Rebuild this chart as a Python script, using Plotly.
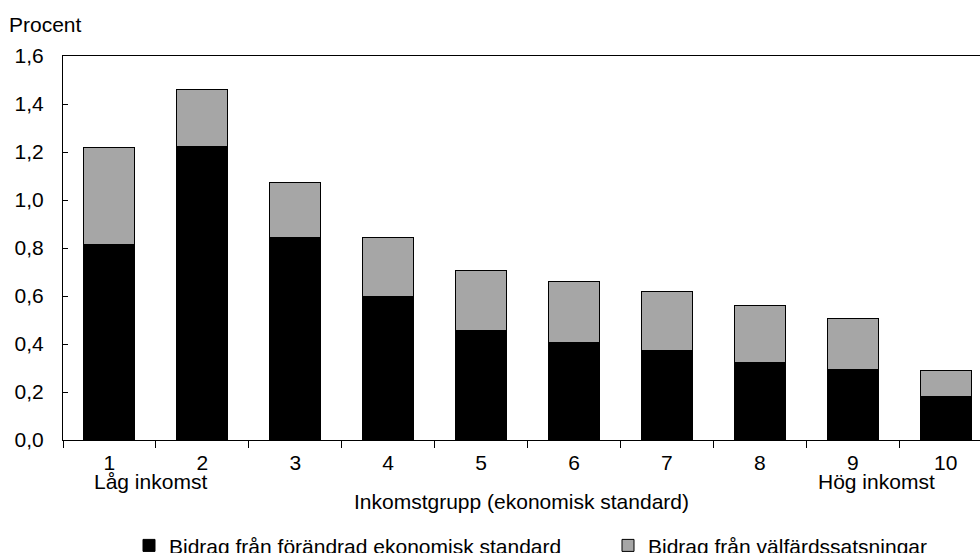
import plotly.graph_objects as go

categories = ["1", "2", "3", "4", "5", "6", "7", "8", "9", "10"]
ekonomisk_standard = [0.815, 1.221, 0.845, 0.600, 0.455, 0.405, 0.375, 0.324, 0.295, 0.181]
valfardssatsningar = [0.403, 0.240, 0.229, 0.245, 0.250, 0.255, 0.245, 0.236, 0.210, 0.108]
y_ticks = [0.0, 0.2, 0.4, 0.6, 0.8, 1.0, 1.2, 1.4, 1.6]

FONT = "Liberation Sans, Arial, sans-serif"
FS = 21

fig = go.Figure()
fig.add_trace(go.Bar(
    x=categories, y=ekonomisk_standard,
    name="Bidrag från förändrad ekonomisk standard",
    marker=dict(color="#000000", line=dict(color="#000000", width=1)),
    legend="legend",
))
fig.add_trace(go.Bar(
    x=categories, y=valfardssatsningar,
    name="Bidrag från välfärdssatsningar",
    marker=dict(color="#A6A6A6", line=dict(color="#000000", width=1)),
    legend="legend2",
))

legend_common = dict(
    orientation="h", yanchor="top", y=-0.222,
    font=dict(size=FS, family=FONT), itemwidth=30,
    bgcolor="rgba(0,0,0,0)",
)

fig.update_layout(
    width=980, height=553,
    margin=dict(l=63, r=0, t=56, b=113, autoexpand=False),
    paper_bgcolor="white", plot_bgcolor="white",
    barmode="stack", bargap=0.451,
    separators=", ",
    font=dict(family=FONT, size=FS, color="#000000"),
    showlegend=True,
    legend=dict(x=(129 - 63) / 917, xanchor="left", **legend_common),
    legend2=dict(x=(608 - 63) / 917, xanchor="left", **legend_common),
    xaxis=dict(
        type="category", range=[-0.5, 9.37],
        showline=True, linecolor="#000000", linewidth=1, mirror=True,
        ticks="outside", ticklen=7, tickcolor="#000000", tickwidth=1,
        tickson="boundaries", showgrid=False, zeroline=False,
        tickfont=dict(size=FS, family=FONT),
        ticklabelstandoff=4,
    ),
    xaxis2=dict(
        overlaying="x", anchor="y", range=[-0.5, 9.37],
        tick0=-0.5, dtick=1, ticks="inside", ticklen=5,
        tickcolor="#000000", tickwidth=1, showticklabels=False,
        showgrid=False, zeroline=False, showline=False,
    ),
    yaxis=dict(
        range=[0, 1.6], tickvals=y_ticks, tickformat=".1f",
        showline=True, linecolor="#000000", linewidth=1,
        ticks="inside", ticklen=5, tickcolor="#000000", tickwidth=1,
        showgrid=False, zeroline=False,
        tickfont=dict(size=FS, family=FONT),
        ticklabelstandoff=14,
    ),
)

fig.add_annotation(text="Procent", xref="paper", yref="paper",
                   x=(7 - 63) / 917, xanchor="left", y=(440 - 24.5) / 384, yanchor="middle",
                   showarrow=False, font=dict(size=FS, family=FONT))
fig.add_annotation(text="Låg inkomst", xref="paper", yref="paper",
                   x=(92 - 63) / 917, xanchor="left", y=(440 - 481.5) / 384, yanchor="middle",
                   showarrow=False, font=dict(size=FS, family=FONT))
fig.add_annotation(text="Hög inkomst", xref="paper", yref="paper",
                   x=(937 - 63) / 917, xanchor="right", y=(440 - 481.5) / 384, yanchor="middle",
                   showarrow=False, font=dict(size=FS, family=FONT))
fig.add_annotation(text="Inkomstgrupp (ekonomisk standard)", xref="paper", yref="paper",
                   x=0.5, xanchor="center", y=(440 - 501) / 384, yanchor="middle",
                   showarrow=False, font=dict(size=FS, family=FONT))

fig.write_html("out.html", config={"displayModeBar": False},
               post_script="document.body.style.margin='0';document.body.style.overflow='hidden';")
